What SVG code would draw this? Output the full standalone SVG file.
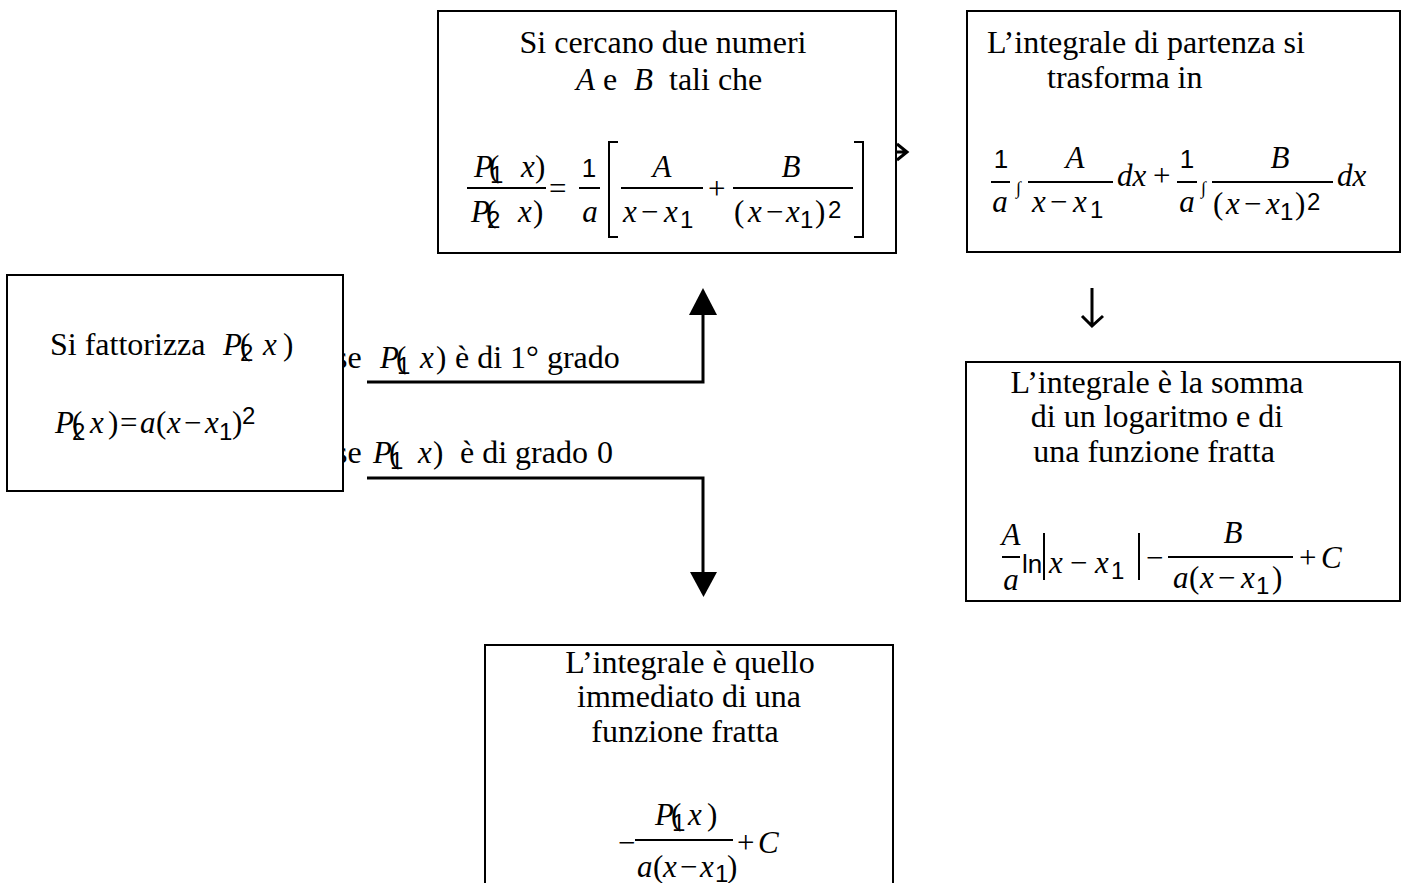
<svg xmlns="http://www.w3.org/2000/svg" width="1404" height="883" viewBox="0 0 1404 883">
<style>
text{font-family:"Liberation Serif","Times New Roman",serif;font-size:31px;fill:#000}
.t{font-size:32px}
.i{font-style:italic}
.s{font-family:"Liberation Sans",Arial,sans-serif;font-size:26px;font-style:normal}
.ss{font-family:"Liberation Sans",Arial,sans-serif;font-size:24px}
.c{text-anchor:middle}
.box{fill:#fff;stroke:#000;stroke-width:2}
.fr{stroke:#000;stroke-width:2;fill:none}
.conn{stroke:#000;stroke-width:3;fill:none}
.int{font-size:18px}
</style>
<rect width="1404" height="883" fill="#fff"/>

<g id="connectors">
  <polyline class="conn" points="367,382 703,382 703,314"/>
  <polygon points="689,315 717,315 703,288" fill="#000"/>
  <polyline class="conn" points="367,478 703,478 703,573"/>
  <polygon points="690,572 717,572 703.5,597" fill="#000"/>
  <path class="conn" d="M897,144 L907,152 L897,160 M896,152 H906"/>
  <path class="conn" d="M1092,288 V326 M1082,316 L1092,326 L1103,316"/>
  <g id="label1">
    <text class="t" x="335" y="368">se</text>
    <text class="i" x="380" y="368">P</text>
    <text x="396" y="368">(</text>
    <text class="ss" x="397" y="374">1</text>
    <text class="i" x="420" y="368">x</text>
    <text x="436" y="368">)</text>
    <text class="t" x="455" y="368">è di 1° grado</text>
  </g>
  <g id="label2">
    <text class="t" x="335" y="463">se</text>
    <text class="i" x="373" y="463">P</text>
    <text x="389" y="463">(</text>
    <text class="ss" x="390" y="469">1</text>
    <text class="i" x="418" y="463">x</text>
    <text x="433" y="463">)</text>
    <text class="t" x="460" y="463">è di grado</text>
    <text class="t" x="597" y="463">0</text>
  </g>
</g>

<g id="node-fattorizza">
  <rect class="box" x="7" y="275" width="336" height="216"/>
  <text class="t" x="50" y="355">Si fattorizza</text>
  <text class="i" x="223" y="355">P</text>
  <text x="240" y="355">(</text>
  <text class="ss" x="240" y="361">2</text>
  <text class="i" x="263" y="355">x</text>
  <text x="283" y="355">)</text>
  <text class="i" x="55" y="433">P</text>
  <text x="72" y="433">(</text>
  <text class="ss" x="72" y="440">2</text>
  <text class="i" x="90" y="433">x</text>
  <text x="108" y="433">)</text>
  <text x="120" y="433">=</text>
  <text class="i" x="140" y="433">a</text>
  <text x="156" y="433">(</text>
  <text class="i" x="167" y="433">x</text>
  <text x="184" y="433">−</text>
  <text class="i" x="205" y="433">x</text>
  <text class="ss" x="219" y="440">1</text>
  <text x="232" y="433">)</text>
  <text class="ss" x="242" y="424">2</text>
</g>

<g id="node-cercano">
  <rect class="box" x="438" y="11" width="458" height="242"/>
  <text class="t c" x="663" y="53">Si cercano due numeri</text>
  <text class="i" x="576" y="90">A</text>
  <text class="t" x="603" y="90">e</text>
  <text class="i" x="634" y="90">B</text>
  <text class="t" x="669" y="90">tali che</text>
  <text class="i" x="474" y="177">P</text>
  <text x="489" y="177">(</text>
  <text class="ss" x="490" y="183">1</text>
  <text class="i" x="521" y="177">x</text>
  <text x="535" y="177">)</text>
  <line class="fr" x1="467" y1="188" x2="546" y2="188"/>
  <text class="i" x="471" y="222">P</text>
  <text x="486" y="222">(</text>
  <text class="ss" x="487" y="228">2</text>
  <text class="i" x="518" y="222">x</text>
  <text x="533" y="222">)</text>
  <text x="549" y="199">=</text>
  <text class="s c" x="589" y="177">1</text>
  <line class="fr" x1="579" y1="188" x2="600" y2="188"/>
  <text class="i c" x="590" y="222">a</text>
  <polyline class="fr" points="618,142 609,142 609,237 618,237"/>
  <text class="i c" x="662" y="177">A</text>
  <line class="fr" x1="621" y1="188" x2="703" y2="188"/>
  <text class="i" x="623" y="222">x</text>
  <text x="641" y="222">−</text>
  <text class="i" x="664" y="222">x</text>
  <text class="ss" x="680" y="228">1</text>
  <text x="708" y="199">+</text>
  <text class="i c" x="791" y="177">B</text>
  <line class="fr" x1="733" y1="188" x2="853" y2="188"/>
  <text x="734" y="222">(</text>
  <text class="i" x="748" y="222">x</text>
  <text x="766" y="222">−</text>
  <text class="i" x="786" y="222">x</text>
  <text class="ss" x="800" y="228">1</text>
  <text x="815" y="222">)</text>
  <text class="ss" x="828" y="218">2</text>
  <polyline class="fr" points="854,142 863,142 863,237 854,237"/>
</g>

<g id="node-trasforma">
  <rect class="box" x="967" y="11" width="433" height="241"/>
  <text class="t" x="987" y="53">L’integrale di partenza si</text>
  <text class="t" x="1047" y="88">trasforma in</text>
  <text class="s c" x="1001" y="168">1</text>
  <line class="fr" x1="991" y1="182" x2="1010" y2="182"/>
  <text class="i c" x="1000" y="212">a</text>
  <text class="int" x="1016" y="194">∫</text>
  <text class="i c" x="1075" y="168">A</text>
  <line class="fr" x1="1028" y1="182" x2="1113" y2="182"/>
  <text class="i" x="1032" y="212">x</text>
  <text x="1050" y="212">−</text>
  <text class="i" x="1073" y="212">x</text>
  <text class="ss" x="1090" y="218">1</text>
  <text class="i" x="1117" y="186">dx</text>
  <text x="1153" y="186">+</text>
  <text class="s c" x="1187" y="168">1</text>
  <line class="fr" x1="1177" y1="182" x2="1197" y2="182"/>
  <text class="i c" x="1187" y="212">a</text>
  <text class="int" x="1201" y="194">∫</text>
  <text class="i c" x="1280" y="168">B</text>
  <line class="fr" x1="1212" y1="182" x2="1333" y2="182"/>
  <text x="1213" y="214">(</text>
  <text class="i" x="1226" y="214">x</text>
  <text x="1244" y="214">−</text>
  <text class="i" x="1266" y="214">x</text>
  <text class="ss" x="1280" y="220">1</text>
  <text x="1295" y="214">)</text>
  <text class="ss" x="1307" y="210">2</text>
  <text class="i" x="1337" y="186">dx</text>
</g>

<g id="node-somma">
  <rect class="box" x="966" y="362" width="434" height="239"/>
  <text class="t c" x="1157" y="393">L’integrale è la somma</text>
  <text class="t c" x="1157" y="427">di un logaritmo e di</text>
  <text class="t c" x="1154" y="462">una funzione fratta</text>
  <text class="i c" x="1011" y="545">A</text>
  <line class="fr" x1="1002" y1="557" x2="1020" y2="557"/>
  <text class="i c" x="1011" y="590">a</text>
  <text class="s" x="1022" y="573">ln</text>
  <line class="fr" x1="1044" y1="533" x2="1044" y2="580"/>
  <text class="i" x="1049" y="573">x</text>
  <text x="1070" y="573">−</text>
  <text class="i" x="1095" y="573">x</text>
  <text class="ss" x="1111" y="579">1</text>
  <line class="fr" x1="1139" y1="533" x2="1139" y2="580"/>
  <text x="1146" y="568">−</text>
  <text class="i c" x="1233" y="543">B</text>
  <line class="fr" x1="1168" y1="557" x2="1293" y2="557"/>
  <text class="i" x="1173" y="588">a</text>
  <text x="1189" y="588">(</text>
  <text class="i" x="1200" y="588">x</text>
  <text x="1218" y="588">−</text>
  <text class="i" x="1241" y="588">x</text>
  <text class="ss" x="1256" y="594">1</text>
  <text x="1272" y="588">)</text>
  <text x="1299" y="568">+</text>
  <text class="i" x="1321" y="568">C</text>
</g>

<g id="node-immediato">
  <rect class="box" x="485" y="645" width="408" height="260"/>
  <text class="t c" x="690" y="673">L’integrale è quello</text>
  <text class="t c" x="689" y="707">immediato di una</text>
  <text class="t c" x="685" y="742">funzione fratta</text>
  <text x="618" y="853">−</text>
  <text class="i" x="655" y="825">P</text>
  <text x="671" y="825">(</text>
  <text class="ss" x="672" y="831">1</text>
  <text class="i" x="688" y="825">x</text>
  <text x="707" y="825">)</text>
  <line class="fr" x1="635" y1="840" x2="733" y2="840"/>
  <text class="i" x="637" y="877">a</text>
  <text x="653" y="877">(</text>
  <text class="i" x="663" y="877">x</text>
  <text x="680" y="877">−</text>
  <text class="i" x="700" y="877">x</text>
  <text class="ss" x="715" y="882">1</text>
  <text x="727" y="877">)</text>
  <text x="737" y="853">+</text>
  <text class="i" x="758" y="853">C</text>
</g>
</svg>
